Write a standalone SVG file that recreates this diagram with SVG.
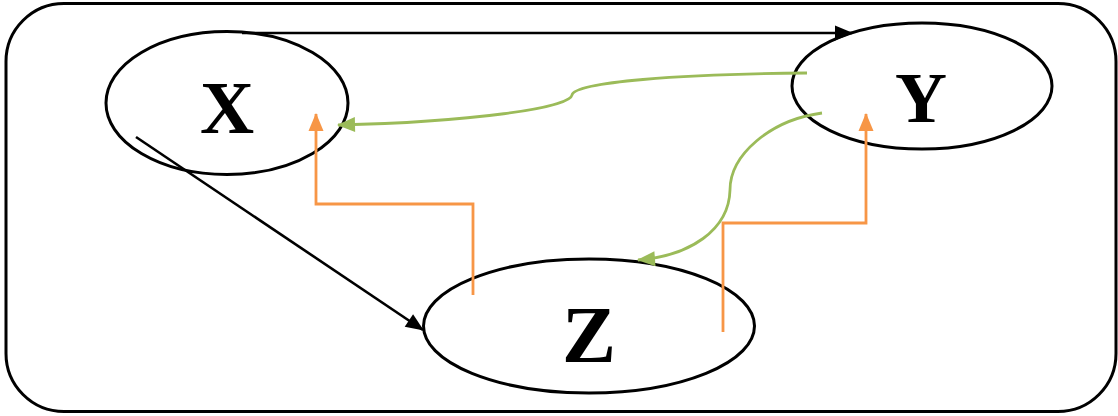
<svg xmlns="http://www.w3.org/2000/svg" width="1118" height="416" viewBox="0 0 1118 416">
  <style>
    .frame { fill: #ffffff; stroke: #000000; stroke-width: 3; }
    .node ellipse { fill: #ffffff; stroke: #000000; stroke-width: 3; }
    .node text { font-family: 'Liberation Serif', serif; font-weight: 700; text-anchor: middle; fill: #000000; }
    .black { fill: none; stroke: #000000; stroke-width: 2.6; }
    .green { fill: none; stroke: #9BBB59; stroke-width: 2.8; }
    .orange { fill: none; stroke: #F79646; stroke-width: 2.8; }
  </style>
  <defs>
    <path id="tri" d="M0,0 L18,7.5 L0,15 z"/>
    <marker id="arrow-black" markerUnits="userSpaceOnUse" viewBox="0 0 18 15" refX="17" refY="7.5" markerWidth="18" markerHeight="15" orient="auto" overflow="visible">
      <use href="#tri" fill="#000000"/>
    </marker>
    <marker id="arrow-green" markerUnits="userSpaceOnUse" viewBox="0 0 18 15" refX="17" refY="7.5" markerWidth="18" markerHeight="15" orient="auto" overflow="visible">
      <use href="#tri" fill="#9BBB59"/>
    </marker>
    <marker id="arrow-orange" markerUnits="userSpaceOnUse" viewBox="0 0 18 15" refX="17" refY="7.5" markerWidth="18" markerHeight="15" orient="auto" overflow="visible">
      <use href="#tri" fill="#F79646"/>
    </marker>
  </defs>

  <rect class="frame" x="6" y="3.5" width="1110" height="408" rx="58" ry="58"/>

  <g id="node-x" class="node">
    <ellipse cx="227" cy="103" rx="121" ry="71.5"/>
    <text x="227" y="133" font-size="75">X</text>
  </g>
  <g id="node-y" class="node">
    <ellipse cx="922" cy="86" rx="130" ry="63"/>
    <text x="921" y="122" font-size="72">Y</text>
  </g>
  <g id="node-z" class="node">
    <ellipse cx="589" cy="326" rx="165.5" ry="67"/>
    <text x="589" y="362" font-size="81">Z</text>
  </g>

  <g id="connectors">
    <!-- X to Y, along the top -->
    <path class="black" d="M242,33 L852,33" marker-end="url(#arrow-black)"/>
    <!-- X to Z, diagonal -->
    <path class="black" d="M136,137 L423,330" marker-end="url(#arrow-black)"/>
    <!-- Y back to X -->
    <path class="green" d="M807,73 C 680,74 575,82 572,95 C 570,108 470,122 338,125" marker-end="url(#arrow-green)"/>
    <!-- Y down to Z -->
    <path class="green" d="M822,113 C 770,120 730,155 730,190 C 729,230 690,256 638,260" marker-end="url(#arrow-green)"/>
    <!-- Z up to X, elbow -->
    <path class="orange" d="M473,295 L473,204 L316,204 L316,114" marker-end="url(#arrow-orange)"/>
    <!-- Z up to Y, elbow -->
    <path class="orange" d="M723,332 L723,223 L866,223 L866,114" marker-end="url(#arrow-orange)"/>
  </g>
</svg>
